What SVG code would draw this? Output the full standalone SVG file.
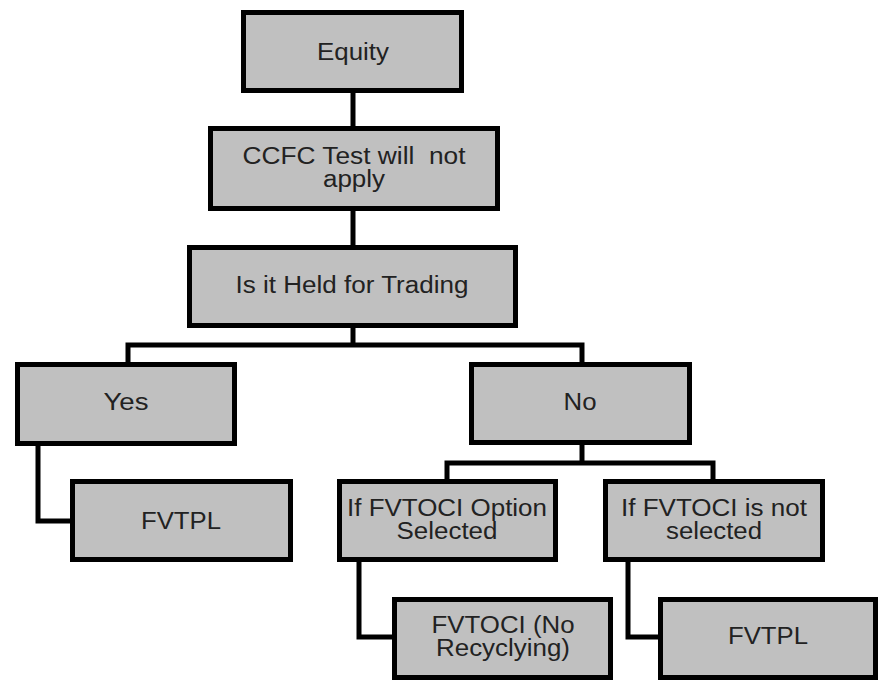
<svg xmlns="http://www.w3.org/2000/svg" width="880" height="680" viewBox="0 0 880 680">
<style>
.box{fill:#c0c0c0;stroke:#000;stroke-width:5}
.lbl{font-family:"Liberation Sans",Arial,sans-serif;font-size:23px;fill:#222;text-anchor:middle}
.con{fill:none;stroke:#000;stroke-width:5;stroke-linejoin:miter}
</style>
<rect width="880" height="680" fill="#fff"/>
<g id="connectors">
<path class="con" d="M353 93V126"/>
<path class="con" d="M353 211V245"/>
<path class="con" d="M353 328V345"/>
<path class="con" d="M128 362V345H582V362"/>
<path class="con" d="M38 446V521H70"/>
<path class="con" d="M582 445V463"/>
<path class="con" d="M447 479V463H713V479"/>
<path class="con" d="M359 562V637H392"/>
<path class="con" d="M628 562V637H658"/>
</g>
<g id="equity">
<rect class="box" x="243.5" y="12.5" width="218" height="78"/>
<text class="lbl" x="353" y="60" textLength="72" lengthAdjust="spacingAndGlyphs">Equity</text>
</g>
<g id="ccfc">
<rect class="box" x="210.5" y="128.5" width="287" height="80"/>
<text class="lbl" xml:space="preserve" style="white-space:pre"><tspan x="354" y="164" textLength="223" lengthAdjust="spacingAndGlyphs">CCFC Test will  not</tspan><tspan x="354" y="187" textLength="62" lengthAdjust="spacingAndGlyphs">apply</tspan></text>
</g>
<g id="held">
<rect class="box" x="189.5" y="247.5" width="326" height="78"/>
<text class="lbl" x="352" y="293" textLength="233" lengthAdjust="spacingAndGlyphs">Is it Held for Trading</text>
</g>
<g id="yes">
<rect class="box" x="17.5" y="364.5" width="217" height="79"/>
<text class="lbl" x="126" y="410" textLength="45" lengthAdjust="spacingAndGlyphs">Yes</text>
</g>
<g id="no">
<rect class="box" x="471.5" y="364.5" width="218" height="78"/>
<text class="lbl" x="580" y="410" textLength="33" lengthAdjust="spacingAndGlyphs">No</text>
</g>
<g id="fvtpl-left">
<rect class="box" x="72.5" y="481.5" width="218" height="78"/>
<text class="lbl" x="181" y="529" textLength="80" lengthAdjust="spacingAndGlyphs">FVTPL</text>
</g>
<g id="option-selected">
<rect class="box" x="339.5" y="481.5" width="216" height="78"/>
<text class="lbl"><tspan x="447" y="516" textLength="200" lengthAdjust="spacingAndGlyphs">If FVTOCI Option</tspan><tspan x="447" y="539" textLength="101" lengthAdjust="spacingAndGlyphs">Selected</tspan></text>
</g>
<g id="not-selected">
<rect class="box" x="605.5" y="481.5" width="217" height="78"/>
<text class="lbl"><tspan x="714" y="516" textLength="186" lengthAdjust="spacingAndGlyphs">If FVTOCI is not</tspan><tspan x="714" y="539" textLength="96" lengthAdjust="spacingAndGlyphs">selected</tspan></text>
</g>
<g id="fvtoci-no-recycling">
<rect class="box" x="394.5" y="599.5" width="216" height="78"/>
<text class="lbl"><tspan x="503" y="633" textLength="143" lengthAdjust="spacingAndGlyphs">FVTOCI (No</tspan><tspan x="503" y="656" textLength="134" lengthAdjust="spacingAndGlyphs">Recyclying)</tspan></text>
</g>
<g id="fvtpl-right">
<rect class="box" x="660.5" y="599.5" width="215" height="78"/>
<text class="lbl" x="768" y="644" textLength="80" lengthAdjust="spacingAndGlyphs">FVTPL</text>
</g>
</svg>
